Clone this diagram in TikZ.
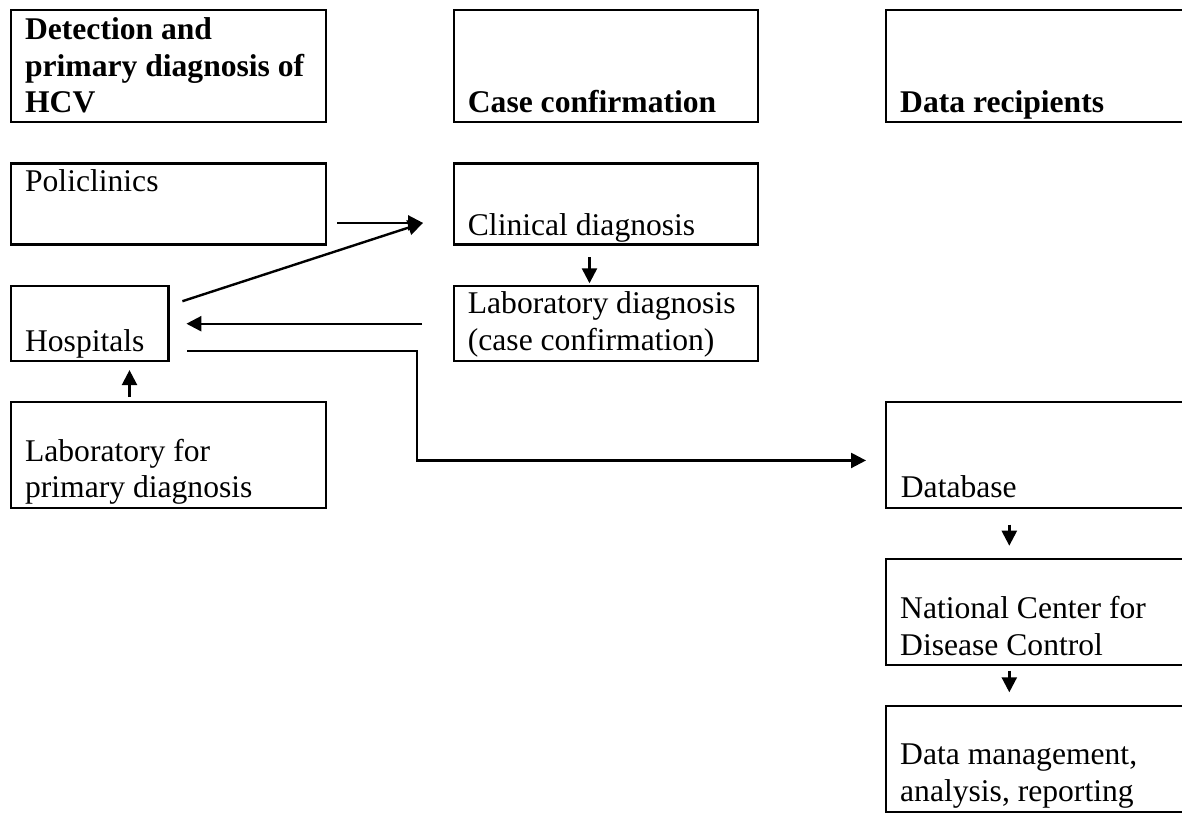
\documentclass[tikz,border=0pt]{standalone}
\usepackage{fontspec}
\setmainfont{Liberation Serif}
\usetikzlibrary{arrows.meta}
\newcommand{\mlines}[1]{\begin{tabular}[b]{@{}l@{}}#1\end{tabular}}
\begin{document}
\begin{tikzpicture}[x=1pt,y=-1pt,
  box/.style={draw, line width=2.4pt, rectangle, inner sep=0pt, anchor=north west},
  txt/.style={inner sep=0pt, anchor=base west, font=\fontsize{31.6}{36.7}\selectfont},
  head/.style={txt, font=\fontsize{31.6}{36.7}\selectfont\bfseries},
  arr/.style={line width=2.4pt, -{Triangle[length=15pt,width=15pt]}}]
\clip (0,0) rectangle (1182,812);
\fill[white] (0,0) rectangle (1182,812);
% boxes
\node[box, minimum width=315pt, minimum height=111.7pt] (det)  at (10,9) {};
\node[box, minimum width=304.3pt, minimum height=111.7pt] (case) at (452.7,9) {};
\node[box, minimum width=335pt, minimum height=111.7pt] (rec)  at (885,9) {};
\node[box, minimum width=315pt, minimum height=81pt] (poli) at (10,162.3) {};
\node[box, minimum width=304.3pt, minimum height=81pt] (clin) at (452.7,162.3) {};
\node[box, minimum width=157.3pt, minimum height=75pt] (hosp) at (10,285) {};
\node[box, minimum width=304.3pt, minimum height=75pt] (labd) at (452.7,285) {};
\node[box, minimum width=315pt, minimum height=106.5pt] (labp) at (10,400.5) {};
\node[box, minimum width=335pt, minimum height=106.5pt] (db) at (885,400.5) {};
\node[box, minimum width=335pt, minimum height=106.3pt] (nc) at (885,557.7) {};
\node[box, minimum width=335pt, minimum height=106pt] (dm) at (885,705) {};
% texts
\node[head] (tdet) at (24.9,112.7) {\mlines{Detection and\\primary diagnosis of\\HCV}};
\node[head] (tcase) at (467.7,112.7) {Case confirmation};
\node[head] (trec) at (900,112.7) {Data recipients};
\node[txt] (tpoli) at (24.9,191.7) {Policlinics};
\node[txt] (tclin) at (467.7,235) {Clinical diagnosis};
\node[txt] (thosp) at (24.9,351) {Hospitals};
\node[txt] (tlabd) at (467.7,350) {\mlines{Laboratory diagnosis\\(case confirmation)}};
\node[txt] (tlabp) at (24.9,497.7) {\mlines{Laboratory for\\primary diagnosis}};
\node[txt] (tdb) at (900.7,497.3) {Database};
\node[txt] (tnc) at (900,655) {\mlines{National Center for\\Disease Control}};
\node[txt] (tdm) at (900,801) {\mlines{Data management,\\analysis, reporting}};
% connectors
\draw[arr] ([xshift=10pt,yshift=-18.9pt]poli.east) -- ([xshift=-29.7pt,yshift=-18.9pt]clin.west);
\draw[arr] ([xshift=12.7pt,yshift=22.5pt]hosp.east) -- ([xshift=-29.7pt,yshift=-18.9pt]clin.west);
\draw[arr] ([xshift=-30.7pt]labd.west) -- ([xshift=16.7pt]hosp.east);
\draw[arr] ([xshift=17.7pt,yshift=-27.5pt]hosp.east) -| ([xshift=-468pt,yshift=-5.5pt]db.west) -- ([xshift=-19pt,yshift=-5.5pt]db.west);
\draw[arr, shorten >=7.7pt] ([xshift=-39.2pt,yshift=3.5pt]labp.north) -- ([xshift=-39.2pt]labp.north |- hosp.south);
\draw[arr, shorten >=1.7pt] ([xshift=-16.55pt,yshift=-11.7pt]clin.south) -- ([xshift=-16.55pt]clin.south |- labd.north);
\draw[arr] ([xshift=124.3pt,yshift=-15.3pt]db.south west) -- ([xshift=124.3pt,yshift=12pt]nc.north west);
\draw[arr] ([xshift=124.3pt,yshift=-4.3pt]nc.south west) -- ([xshift=124.3pt,yshift=12.7pt]dm.north west);
\end{tikzpicture}
\end{document}
